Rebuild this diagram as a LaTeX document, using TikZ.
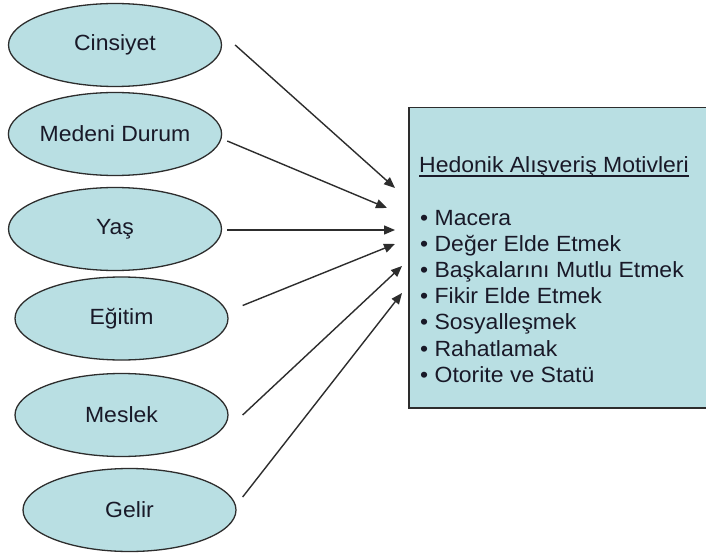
\documentclass[tikz,border=0pt]{standalone}
\usepackage{fontspec}
\setmainfont{Liberation Sans}
\newfontfamily\widesans[FakeStretch=1.045]{Liberation Sans}
\usetikzlibrary{shapes.geometric,arrows.meta}
\definecolor{fillblue}{RGB}{185,223,227}
\definecolor{edgegray}{RGB}{45,45,45}
\definecolor{inkdark}{RGB}{25,25,40}
\begin{document}
\begin{tikzpicture}[x=1pt,y=-1pt,
  factor/.style={ellipse,draw=edgegray,line width=1.3pt,fill=fillblue,
    minimum width=213pt,minimum height=83pt,inner sep=0pt,
    text=inkdark,font=\widesans\fontsize{22}{26}\selectfont},
  panel/.style={rectangle,draw=edgegray,line width=1.5pt,fill=fillblue,
    minimum width=320pt,minimum height=300pt,inner sep=0pt,anchor=north west},
  itemline/.style={anchor=base west,inner sep=0pt,text=inkdark,
    font=\widesans\fontsize{22}{26}\selectfont},
  link/.style={draw=edgegray,line width=1.4pt,
    -{Triangle[length=11pt,width=9pt]}}]
\clip (0,0) rectangle (706,556);
\fill[white] (0,0) rectangle (706,556);

% predictor ellipses
\node[factor] (cins)   at (115,45)  {Cinsiyet};
\node[factor] (medeni) at (115,134) {Medeni Durum};
\node[factor] (yas)    at (115,229) {Yaş};
\node[factor] (egitim) at (121.5,318.5) {Eğitim};
\node[factor] (meslek) at (121.5,415) {Meslek};
\node[factor] (gelir)  at (129.5,510) {Gelir};

% motives panel
\node[panel] (motiv) at (408,107) {};
\node[itemline] (baslik) at (419,173) {Hedonik Alışveriş Motivleri};
\draw[inkdark,line width=1.2pt] ([yshift=-3pt]baslik.base west) -- ([yshift=-3pt]baslik.base east);
\node[itemline] (m1) at (420,225)   {• Macera};
\node[itemline] (m2) at (420,251.2) {• Değer Elde Etmek};
\node[itemline] (m3) at (420,277.4) {• Başkalarını Mutlu Etmek};
\node[itemline] (m4) at (420,303.6) {• Fikir Elde Etmek};
\node[itemline] (m5) at (420,329.8) {• Sosyalleşmek};
\node[itemline] (m6) at (420,356)   {• Rahatlamak};
\node[itemline] (m7) at (420,382.2) {• Otorite ve Statü};

% arrow targets just left of the panel
\coordinate (t1) at ([shift={(-13,81)}]motiv.north west);
\coordinate (t2) at ([shift={(-21,101)}]motiv.north west);
\coordinate (t3) at ([shift={(-13,123)}]motiv.north west);
\coordinate (t4) at ([shift={(-13,137)}]motiv.north west);
\coordinate (t5) at ([shift={(-6,159)}]motiv.north west);
\coordinate (t6) at ([shift={(-6,186)}]motiv.north west);

% arrows
\draw[link] ([shift={(13,0)}]cins.east)   -- (t1);
\draw[link] ([shift={(5,7)}]medeni.east)  -- (t2);
\draw[link] ([shift={(5,1)}]yas.east)     -- (t3);
\draw[link] ([shift={(14,-13)}]egitim.east) -- (t4);
\draw[link] ([shift={(14,0)}]meslek.east) -- (t5);
\draw[link] ([shift={(6,-13)}]gelir.east) -- (t6);
\end{tikzpicture}
\end{document}
